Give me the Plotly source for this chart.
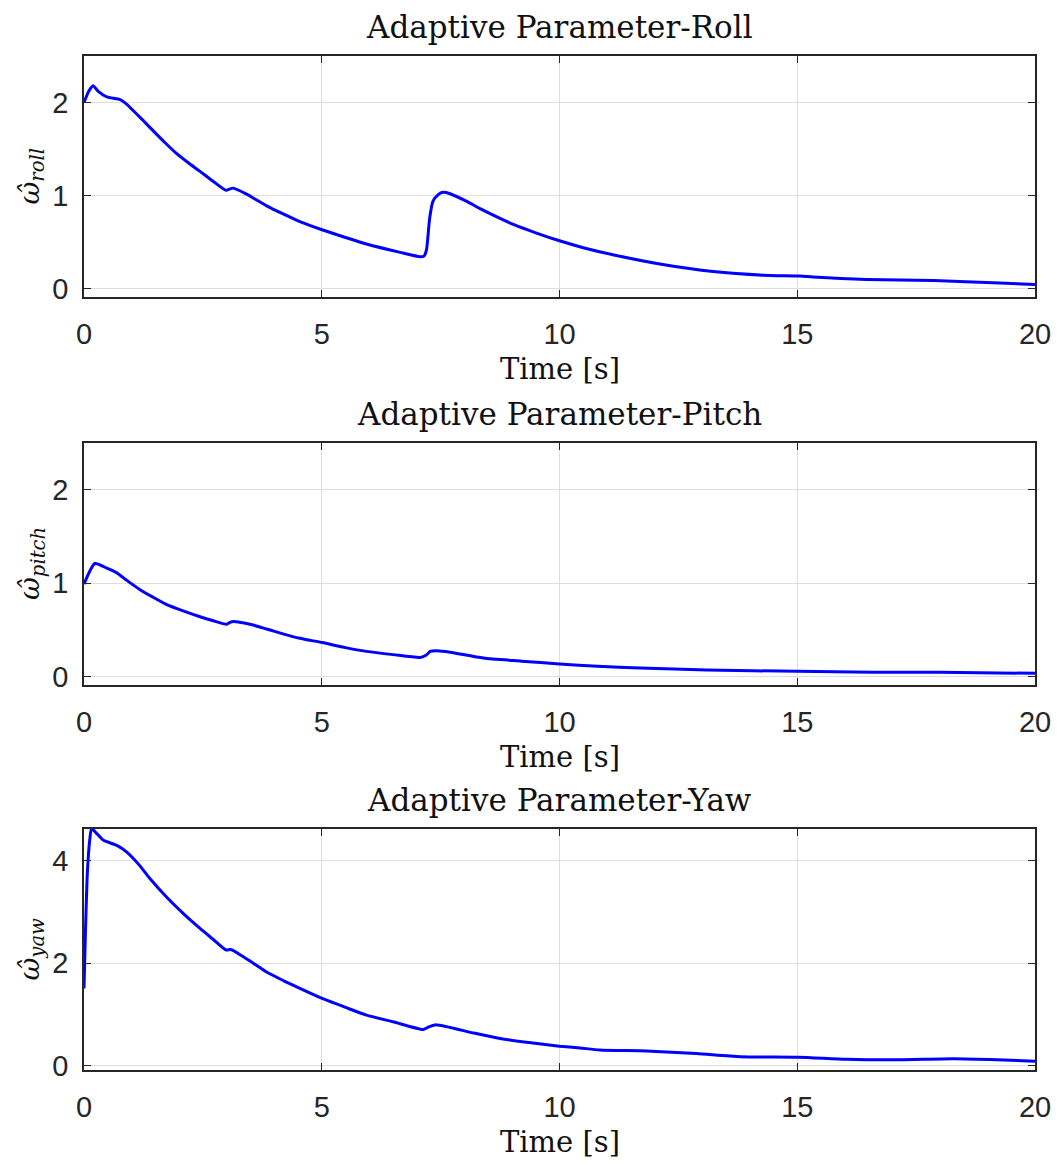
import plotly.graph_objects as go

# ---- data ----
t_roll = [0, 0.1, 0.19, 0.3, 0.48, 0.76, 0.9, 1.0, 1.2, 1.39, 1.7, 1.95, 2.2, 2.44, 2.7, 2.99, 3.06, 3.14, 3.4,
          3.84, 4.2, 4.54, 5.02, 5.5, 5.94, 6.65, 7.07, 7.15, 7.2, 7.27, 7.34, 7.45, 7.55, 7.7,
          8.04, 8.33, 8.75, 9.03, 9.5, 10, 10.5, 11.12, 12.17, 13.23, 14.28, 15.06, 15.33, 16.46,
          17.86, 19.26, 20]
w_roll = [2.0, 2.12, 2.18, 2.12, 2.06, 2.03, 1.98, 1.93, 1.83, 1.73, 1.57, 1.45, 1.35, 1.26, 1.16, 1.056, 1.07, 1.08, 1.02,
          0.89, 0.80, 0.72, 0.63, 0.55, 0.48, 0.39, 0.343, 0.35, 0.41, 0.76, 0.94, 1.01, 1.035, 1.02,
          0.94, 0.86, 0.755, 0.69, 0.60, 0.514, 0.44, 0.365, 0.26, 0.184, 0.145, 0.135, 0.125, 0.098,
          0.086, 0.06, 0.045]

t_pitch = [0, 0.23, 0.48, 0.69, 0.9, 1.18, 1.45, 1.74, 2.1, 2.44, 2.7, 3.0, 3.07, 3.14, 3.49, 3.84, 4.2, 4.54, 5.01,
           5.5, 5.94, 6.5, 7.07, 7.2, 7.28, 7.42, 7.7, 8.4, 9.2, 10, 10.8, 11.69, 13.1, 15, 16.6, 18, 20]
w_pitch = [0.99, 1.21, 1.16, 1.11, 1.03, 0.93, 0.85, 0.77, 0.70, 0.64, 0.60, 0.56, 0.58, 0.59, 0.56, 0.51, 0.455, 0.41, 0.364,
           0.31, 0.27, 0.235, 0.205, 0.23, 0.27, 0.276, 0.26, 0.198, 0.165, 0.135, 0.11, 0.092, 0.071, 0.056, 0.046, 0.046, 0.035]

t_yaw = [0, 0.03, 0.07, 0.12, 0.16, 0.25, 0.41, 0.69, 0.9, 1.15, 1.39, 1.75, 2.09, 2.44, 2.7, 2.99, 3.07, 3.14,
         3.5, 3.84, 4.2, 4.54, 5.02, 5.5, 5.94, 6.5, 7.14, 7.25, 7.38, 7.7, 8.2, 8.75, 9.4, 10, 10.43, 10.85, 11.83, 12.88,
         13.8, 15.02, 16.04, 17.09, 18.28, 19.2, 20]
w_yaw = [1.51, 2.6, 3.75, 4.4, 4.63, 4.55, 4.40, 4.30, 4.17, 3.93, 3.65, 3.28, 2.97, 2.68, 2.48, 2.26, 2.27, 2.25,
         2.04, 1.83, 1.66, 1.51, 1.31, 1.14, 0.99, 0.86, 0.71, 0.76, 0.80, 0.75, 0.64, 0.535, 0.45, 0.385, 0.35, 0.31, 0.29, 0.24,
         0.18, 0.17, 0.13, 0.12, 0.14, 0.12, 0.09]

titles = ["Adaptive Parameter-Roll", "Adaptive Parameter-Pitch", "Adaptive Parameter-Yaw"]
ylabels = ["roll", "pitch", "yaw"]
x_ticks = [0, 5, 10, 15, 20]
y_ticks = [[0, 1, 2], [0, 1, 2], [0, 2, 4]]
y_ranges = [[-0.09, 2.5], [-0.09, 2.5], [-0.08, 4.62]]

W, H = 1061, 1165
left, right = 84, 1035
panels_px = [(56, 297), (443, 685), (829, 1070)]

fig = go.Figure()
series = [(t_roll, w_roll), (t_pitch, w_pitch), (t_yaw, w_yaw)]
for i, (tx, wy) in enumerate(series):
    sfx = "" if i == 0 else str(i + 1)
    fig.add_trace(go.Scatter(x=tx, y=wy, mode="lines", xaxis="x" + sfx, yaxis="y" + sfx,
                             line=dict(color="#0000FF", width=3, shape="spline", smoothing=0.6),
                             showlegend=False))

axcol = "#262626"
gridcol = "#DEDEDE"
tickfont = dict(family="Liberation Sans, Arial", size=29, color=axcol)
serif = "DejaVu Serif"
layout = dict(width=W, height=H, margin=dict(l=0, r=0, t=0, b=0, autoexpand=False),
              paper_bgcolor="white", plot_bgcolor="white", annotations=[])

for i, (top, bot) in enumerate(panels_px):
    sfx = "" if i == 0 else str(i + 1)
    dom_y = [1 - bot / H, 1 - top / H]
    layout["xaxis" + sfx] = dict(domain=[left / W, right / W], range=[0, 20], anchor="y" + sfx,
                                 tickvals=x_ticks, ticks="inside", ticklen=7, tickwidth=1,
                                 tickcolor=axcol, showline=True, linecolor=axcol, linewidth=1.5,
                                 mirror="allticks", showgrid=True, gridcolor=gridcol, gridwidth=1,
                                 zeroline=False, tickfont=tickfont, ticklabelstandoff=10,
                                 automargin=False)
    layout["yaxis" + sfx] = dict(domain=dom_y, range=y_ranges[i], anchor="x" + sfx,
                                 tickvals=y_ticks[i], ticks="inside", ticklen=7, tickwidth=1,
                                 tickcolor=axcol, showline=True, linecolor=axcol, linewidth=1.5,
                                 mirror="allticks", showgrid=True, gridcolor=gridcol, gridwidth=1,
                                 zeroline=False, tickfont=tickfont, ticklabelstandoff=8,
                                 automargin=False)
    cx = (left + right) / 2 / W
    layout["annotations"].append(dict(text=titles[i], x=cx, y=1 - (top - 29) / H, xref="paper",
                                      yref="paper", xanchor="center", yanchor="middle",
                                      showarrow=False,
                                      font=dict(family=serif, size=31, color="#111111")))
    layout["annotations"].append(dict(text="Time [s]", x=cx, y=1 - (bot + 72) / H, xref="paper",
                                      yref="paper", xanchor="center", yanchor="middle",
                                      showarrow=False,
                                      font=dict(family=serif, size=29, color="#111111")))
    layout["annotations"].append(dict(text="<i>ω̂</i><sub><i>" + ylabels[i] + "</i></sub>",
                                      x=31 / W, y=1 - (top + bot) / 2 / H, xref="paper",
                                      yref="paper", xanchor="center", yanchor="middle",
                                      textangle=-90, showarrow=False,
                                      font=dict(family=serif, size=28, color="#111111")))

fig.update_layout(**layout)
fig.write_html("out.html")
